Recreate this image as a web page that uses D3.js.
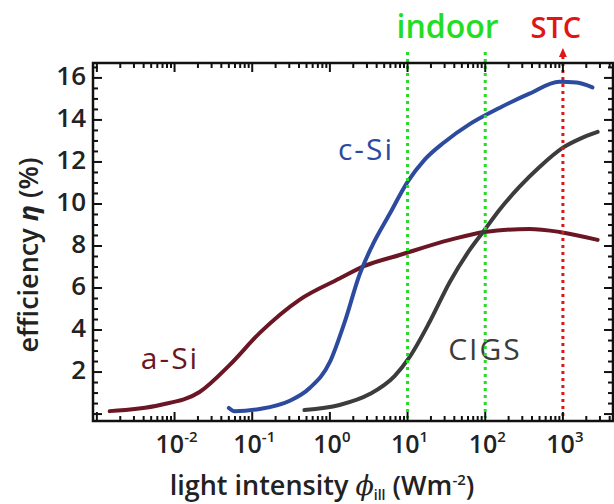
<!DOCTYPE html>
<html><head><meta charset="utf-8">
<script src="https://cdn.jsdelivr.net/npm/d3@7"></script>
<style>
body{margin:0;background:#fff;}
text{font-family:"Open Sans","DejaVu Sans",sans-serif;}
</style></head>
<body><svg id="c" width="614" height="504"></svg>
<script>
// ---- data ----
const aSiIntensity = [0.00146,0.0065,0.021,0.051,0.124,0.41,1.33,2.8,7.9,35,98,370,900,2800];
const aSiEff       = [0.14,0.43,1.05,2.33,3.85,5.45,6.45,7.05,7.57,8.29,8.67,8.81,8.67,8.29];
const cSiIntensity = [0.050,0.059,0.124,0.30,0.55,1.0,1.55,2.4,3.44,5.87,10,16.5,30,63,152,370,900,1500,2400];
const cSiEff       = [0.29,0.14,0.24,0.62,1.24,2.48,4.38,6.62,7.95,9.52,11.05,12.1,12.95,13.8,14.57,15.25,15.82,15.78,15.55];
const cigsIntensity = [0.47,1.33,3.25,6.8,10.6,19.2,35,63,98,152,275,500,990,1650,2800];
const cigsEff       = [0.19,0.43,0.95,1.81,2.71,4.38,6.29,7.81,8.76,9.71,10.81,11.76,12.67,13.1,13.43];
const seriesNames = ["a-Si","c-Si","CIGS"];
const xTickValues = [0.01,0.1,1,10,100,1000];
const xTickExp = ["-2","-1","0","1","2","3"];
const yTickValues = [2,4,6,8,10,12,14,16];
const indoorLines = [10,100];
const stcLine = [1000];

const svg = d3.select("#c");
const L=93,R=613,T=63,B=421;
const x = d3.scaleLog().domain([Math.pow(10,-3.05),Math.pow(10,3.645)]).range([L,R]);
const y = d3.scaleLinear().domain([-0.33,16.71]).range([B,T]);

const series = [
  {name:seriesNames[0], xs:aSiIntensity, ys:aSiEff, color:"#6b1624", lx:170, ly:361},
  {name:seriesNames[1], xs:cSiIntensity, ys:cSiEff, color:"#2d4b9e", lx:366, ly:152},
  {name:seriesNames[2], xs:cigsIntensity, ys:cigsEff, color:"#3c3c3c", lx:485, ly:352}
];

// curves
const line = d3.line().x(d=>x(d[0])).y(d=>y(d[1])).curve(d3.curveMonotoneX);
series.forEach(s=>{
  const pts = s.xs.map((v,i)=>[v,s.ys[i]]);
  svg.append("path").attr("d",line(pts)).attr("fill","none")
    .attr("stroke",s.color).attr("stroke-width",4).attr("stroke-linecap","round");
  svg.append("text").attr("x",s.lx).attr("y",s.ly).attr("text-anchor","middle")
    .attr("dominant-baseline","middle").attr("font-size",30).attr("letter-spacing",2)
    .attr("fill",s.color).text(s.name);
});

// vertical reference lines
indoorLines.forEach(v=>{
  svg.append("line").attr("x1",x(v)).attr("x2",x(v)).attr("y1",52).attr("y2",B-3)
    .attr("stroke","#22dd22").attr("stroke-width",3).attr("stroke-dasharray","3,4");
});
stcLine.forEach(v=>{
  svg.append("line").attr("x1",x(v)).attr("x2",x(v)).attr("y1",56).attr("y2",B-3)
    .attr("stroke","#e01515").attr("stroke-width",3).attr("stroke-dasharray","3,4");
  svg.append("path").attr("d",`M${x(v)-4},${57}L${x(v)},${48}L${x(v)+4},${57}Z`).attr("fill","#e01515");
});
svg.append("text").attr("x",x(indoorLines[0])+40).attr("y",29).attr("text-anchor","middle")
  .attr("dominant-baseline","middle").attr("font-size",32).attr("font-weight",600).attr("fill","#22dd22").text("indoor");
svg.append("text").attr("x",x(stcLine[0])-7).attr("y",30).attr("text-anchor","middle")
  .attr("dominant-baseline","middle").attr("font-size",29).attr("font-weight",600).attr("fill","#e01515").text("STC");

// frame
svg.append("rect").attr("x",L).attr("y",T).attr("width",R-L).attr("height",B-T)
  .attr("fill","none").attr("stroke","#111").attr("stroke-width",2.5);

// log ticks top/bottom
const decades = d3.range(-3,4);
const minor = [];
decades.forEach(d=>{ for(let k=1;k<10;k++){ const v=k*Math.pow(10,d); if(v>=x.domain()[0]&&v<=x.domain()[1]) minor.push({v,major:k===1}); }});
minor.forEach(m=>{
  const len = m.major?9:5;
  svg.append("line").attr("x1",x(m.v)).attr("x2",x(m.v)).attr("y1",B).attr("y2",B-len).attr("stroke","#111").attr("stroke-width",2);
  svg.append("line").attr("x1",x(m.v)).attr("x2",x(m.v)).attr("y1",T).attr("y2",T+len).attr("stroke","#111").attr("stroke-width",2);
});
// y ticks left/right
d3.range(0,16.6,0.5).forEach(v=>{
  const len = (v%2===0)?9:5;
  svg.append("line").attr("x1",L).attr("x2",L+len).attr("y1",y(v)).attr("y2",y(v)).attr("stroke","#111").attr("stroke-width",2);
  svg.append("line").attr("x1",R).attr("x2",R-len).attr("y1",y(v)).attr("y2",y(v)).attr("stroke","#111").attr("stroke-width",2);
});

// x tick labels
xTickValues.forEach((v,i)=>{
  const t = svg.append("text").attr("x",x(v)+2).attr("y",453).attr("text-anchor","middle")
    .attr("font-size",25).attr("font-weight",600).attr("fill","#222");
  t.append("tspan").text("10");
  t.append("tspan").attr("font-size",15).attr("dy",-11).text(xTickExp[i]);
});
// y tick labels
yTickValues.forEach(v=>{
  svg.append("text").attr("x",86).attr("y",y(v)).attr("text-anchor","end").attr("dominant-baseline","middle")
    .attr("font-size",26).attr("font-weight",600).attr("fill","#222").text(v);
});

// axis titles
const xt = svg.append("text").attr("x",322).attr("y",495).attr("text-anchor","middle")
  .attr("font-size",27).attr("font-weight",600).attr("fill","#222");
xt.append("tspan").text("light intensity ");
xt.append("tspan").attr("font-style","italic").attr("font-family","DejaVu Serif").attr("font-weight","normal").text("ϕ");
xt.append("tspan").attr("font-size",14).attr("dy",5).text("ill");
xt.append("tspan").attr("dy",-5).text(" (Wm");
xt.append("tspan").attr("font-size",15).attr("dy",-10).text("-2");
xt.append("tspan").attr("dy",10).text(")");

const yt = svg.append("text").attr("transform","translate(38,255) rotate(-90)").attr("text-anchor","middle")
  .attr("font-size",27).attr("font-weight",600).attr("fill","#222");
yt.append("tspan").text("efficiency ");
yt.append("tspan").attr("font-style","italic").attr("font-weight","bold").text("η");
yt.append("tspan").text(" (%)");
</script></body></html>
